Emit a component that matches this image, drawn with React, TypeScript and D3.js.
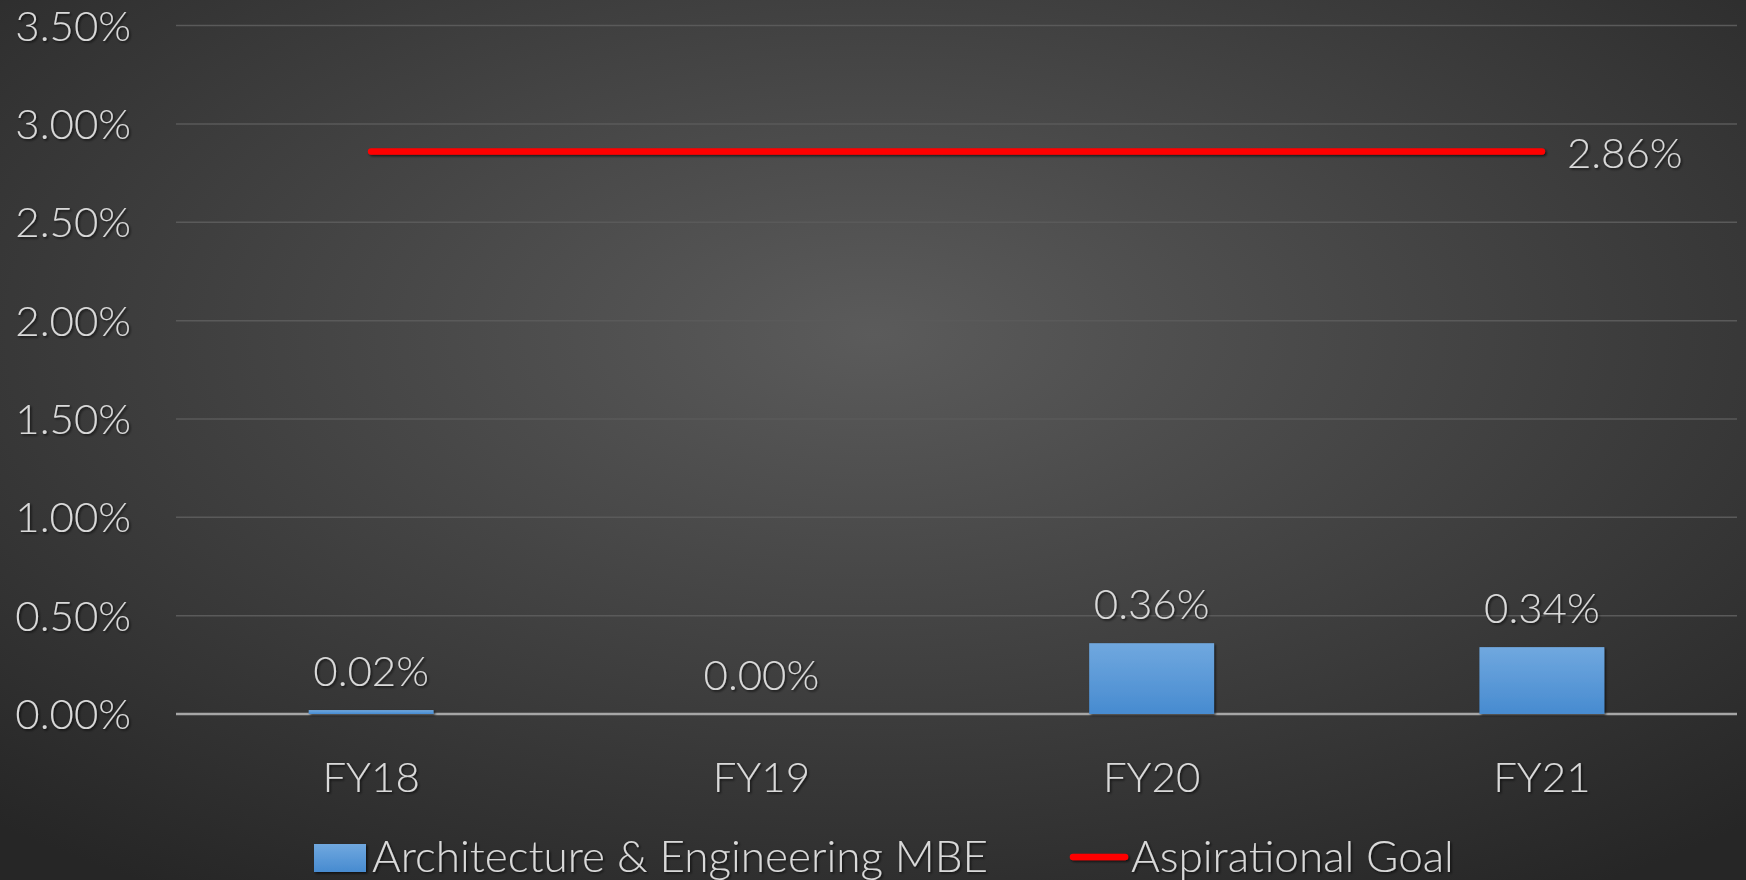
import { FC } from "react";
import * as d3 from "d3";

const categories = ["FY18", "FY19", "FY20", "FY21"];
const mbeValues = [0.02, 0.0, 0.36, 0.34];
const goalValues = [2.86, 2.86, 2.86, 2.86];
const yTicks = [0, 0.5, 1, 1.5, 2, 2.5, 3, 3.5];
const seriesNames = ["Architecture & Engineering MBE", "Aspirational Goal"];

const W = 1746;
const H = 880;
const margin = { top: 25.6, right: 9, bottom: 166, left: 176 };
const font = "Lato, 'Open Sans', sans-serif";
const textColor = "#d9d9d9";

const App: FC = () => {
  const x = d3
    .scaleBand()
    .domain(categories)
    .range([margin.left, W - margin.right])
    .paddingInner(0.68)
    .paddingOuter(0.34);

  const y = d3
    .scaleLinear()
    .domain([0, 3.5])
    .range([H - margin.bottom, margin.top]);

  const cx = (c: string) => (x(c) ?? 0) + x.bandwidth() / 2;
  const fmt = (v: number) => v.toFixed(2) + "%";

  const goalLine = d3
    .line<number>()
    .x((_, i) => cx(categories[i]))
    .y((d) => y(d));

  const lastGoal = goalValues[goalValues.length - 1];

  return (
    <svg
      width={W}
      height={H}
      style={{ position: "absolute", left: 0, top: 0, display: "block" }}
    >
      <defs>
        <radialGradient id="bg" cx="50%" cy="38%" r="75%">
          <stop offset="0" stopColor="#5b5b5b" />
          <stop offset="1" stopColor="#262626" />
        </radialGradient>
        <linearGradient id="barFill" x1="0" y1="0" x2="0" y2="1">
          <stop offset="0" stopColor="#70a8df" />
          <stop offset="1" stopColor="#478bd0" />
        </linearGradient>
        {/* user space units so flat lines (zero-height bbox) still render */}
        <filter id="shadow" filterUnits="userSpaceOnUse" x="0" y="0" width={W} height={H}>
          <feDropShadow dx="1.5" dy="1.5" stdDeviation="1.2" floodColor="#000" floodOpacity="0.65" />
        </filter>
      </defs>
      <rect width={W} height={H} fill="url(#bg)" />

      {/* gridlines */}
      <g>
        {yTicks.map((t) => (
          <line
            key={t}
            x1={margin.left}
            x2={W - margin.right}
            y1={y(t)}
            y2={y(t)}
            stroke={t === 0 ? "#a6a6a6" : "#5a5a5a"}
            strokeWidth={t === 0 ? 2.5 : 1.5}
          />
        ))}
      </g>

      {/* y axis labels */}
      <g
        fontFamily={font}
        fontWeight={300}
        fontSize={42}
        fill={textColor}
        textAnchor="end"
        filter="url(#shadow)"
      >
        {yTicks.map((t) => (
          <text key={t} x={131} y={y(t) + 15}>
            {fmt(t)}
          </text>
        ))}
      </g>

      {/* bars */}
      <g filter="url(#shadow)">
        {mbeValues.map((v, i) => (
          <rect
            key={categories[i]}
            x={x(categories[i])}
            y={y(v)}
            width={x.bandwidth()}
            height={y(0) - y(v)}
            fill="url(#barFill)"
          />
        ))}
      </g>

      {/* bar labels */}
      <g
        fontFamily={font}
        fontWeight={300}
        fontSize={42}
        fill={textColor}
        textAnchor="middle"
        filter="url(#shadow)"
      >
        {mbeValues.map((v, i) => (
          <text key={categories[i]} x={cx(categories[i])} y={y(v) - 24}>
            {fmt(v)}
          </text>
        ))}
      </g>

      {/* goal line */}
      <path
        d={goalLine(goalValues) ?? ""}
        fill="none"
        stroke="#ff0000"
        strokeWidth={6.5}
        strokeLinecap="round"
        filter="url(#shadow)"
      />
      <text
        x={cx(categories[categories.length - 1]) + 25}
        y={y(lastGoal) + 17}
        fontFamily={font}
        fontWeight={300}
        fontSize={42}
        fill={textColor}
        filter="url(#shadow)"
      >
        {fmt(lastGoal)}
      </text>

      {/* x axis labels */}
      <g
        fontFamily={font}
        fontWeight={300}
        fontSize={42}
        fill={textColor}
        textAnchor="middle"
        filter="url(#shadow)"
      >
        {categories.map((c) => (
          <text key={c} x={cx(c)} y={792}>
            {c}
          </text>
        ))}
      </g>

      {/* legend */}
      <g fontFamily={font} fontWeight={300} fontSize={44} fill={textColor}>
        <rect x={314} y={844} width={52} height={28} fill="url(#barFill)" filter="url(#shadow)" />
        <text x={372} y={872} filter="url(#shadow)">
          {seriesNames[0]}
        </text>
        <line
          x1={1073}
          x2={1125}
          y1={857}
          y2={857}
          stroke="#ff0000"
          strokeWidth={6.5}
          strokeLinecap="round"
          filter="url(#shadow)"
        />
        <text x={1131} y={872} filter="url(#shadow)">
          {seriesNames[1]}
        </text>
      </g>
    </svg>
  );
};

export default App;
